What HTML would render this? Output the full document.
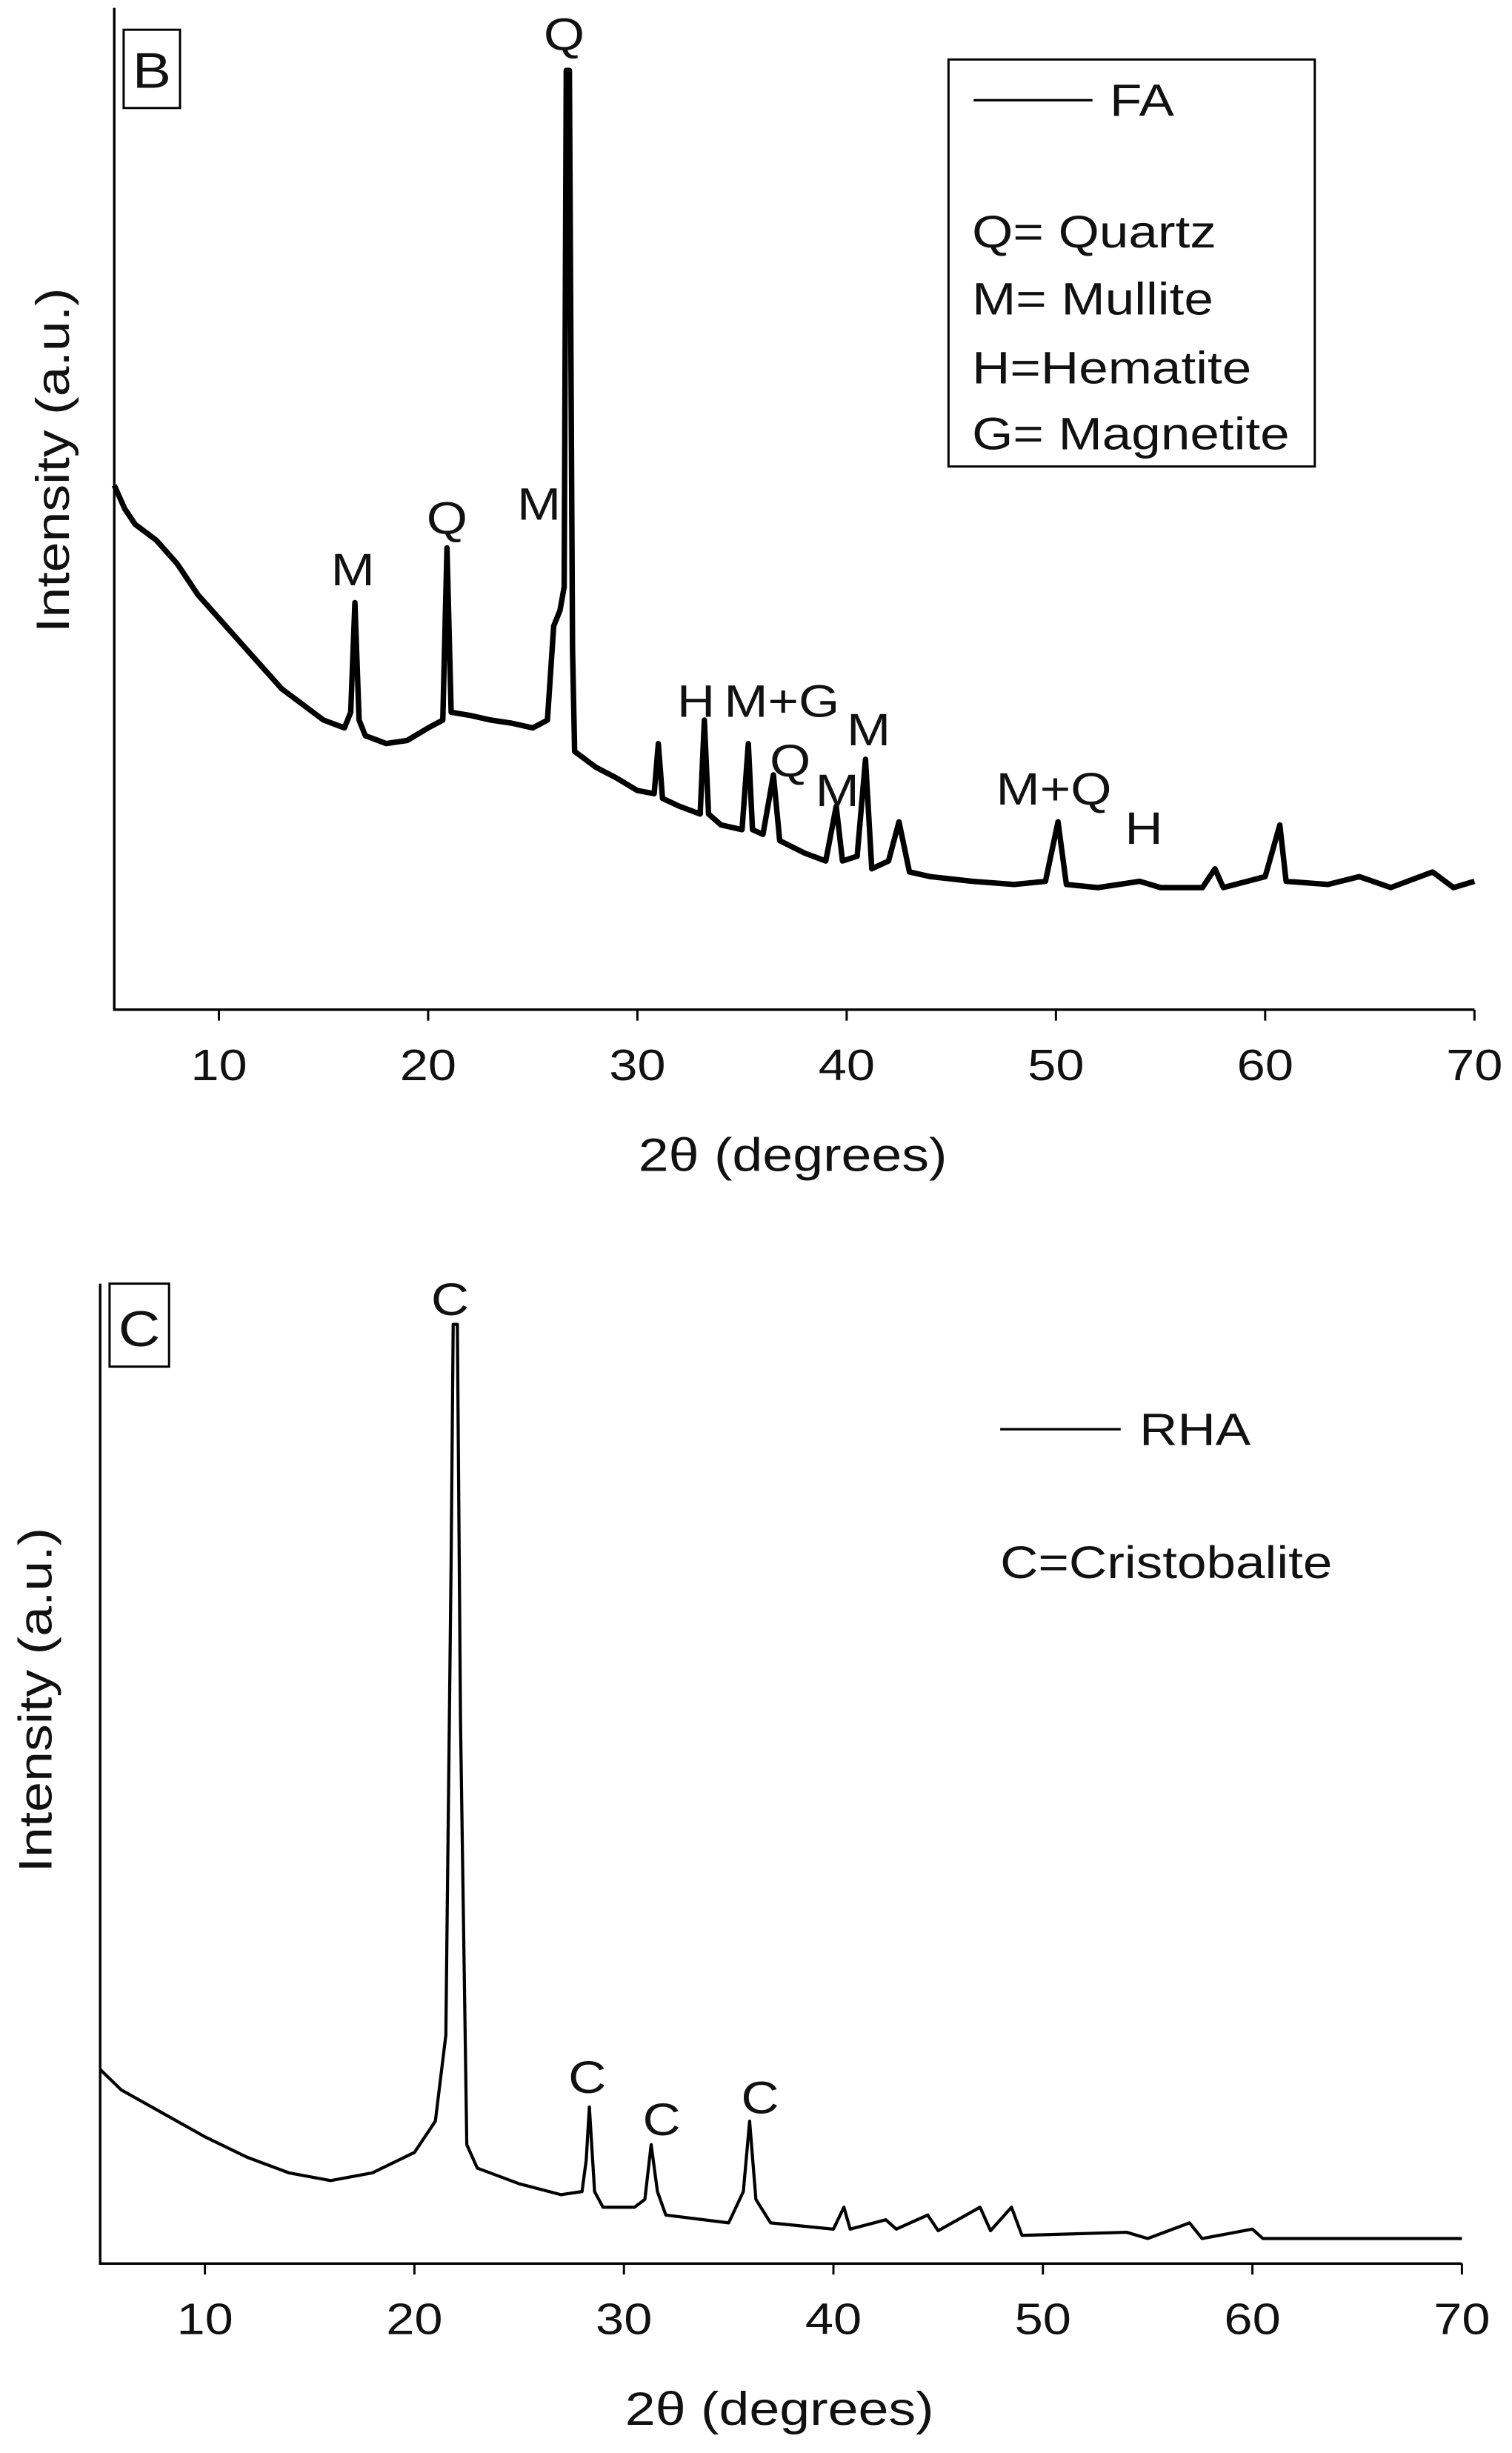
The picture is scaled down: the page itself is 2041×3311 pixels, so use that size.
<!DOCTYPE html>
<html><head><meta charset="utf-8"><style>
html,body{margin:0;padding:0;background:#fff}
svg{display:block}
text{font-family:"Liberation Sans",Arial,sans-serif;fill:#111}
</style></head><body>
<svg id="fig" width="2041" height="3311" viewBox="0 0 966 1567" preserveAspectRatio="none" xmlns="http://www.w3.org/2000/svg">
<rect width="966" height="1567" fill="#fff"/>
<g id="chartB"></g>
<g id="chartC"></g>
</svg>
<script>
// ---- FA data (2theta, intensity a.u.) ----
const faTheta = [5,5.5,6,7,8,9,10,11,12,13,14,15,16,16.3,16.5,16.7,17,18,19,20,20.7,20.9,21.1,22,23,24,25,25.7,26,26.3,26.5,26.6,26.75,26.9,27,28,29,30,30.8,31,31.2,32,33,33.2,33.4,34,35,35.3,35.5,36,36.5,36.8,38,39,39.5,39.8,40.5,40.9,41.2,42,42.5,43,44,46,48,49.5,50.1,50.5,52,54,55,57,57.6,58,60,60.7,61,63,64.5,66,68,69,70];
const faIntensity = [335,320,310,300,285,265,250,235,220,205,195,185,180,190,260,185,175,170,172,180,185,295,190,188,185,183,180,185,245,255,270,600,600,230,165,155,148,140,138,170,135,130,125,185,125,118,115,170,115,112,150,108,100,95,130,95,98,160,90,95,120,88,85,82,80,82,120,80,78,82,78,78,90,78,85,118,82,80,85,78,88,78,82];
// ---- RHA data ----
const rhaTheta = [5,6,8,10,12,14,16,18,20,21,21.5,21.75,21.85,22.05,22.2,22.5,23,25,27,28,28.2,28.35,28.6,29,30.5,31,31.3,31.6,32,35,35.7,36,36.3,37,40,40.5,40.8,42.5,43,44.5,45,47,47.5,48.5,49,54,55,57,57.6,60,60.5,70];
const rhaIntensity = [124,111,96,81,68,58,53,58,71,91,146,446,600,600,346,76,61,51,44,46,66,100,46,36,36,41,76,46,31,26,46,91,41,26,22,36,22,28,22,31,21,36,21,36,18,20,16,26,16,22,16,16];
const xTicks = [10,20,30,40,50,60,70];
// label text, 2theta position, intensity position (baseline)
const faLabels = [["Q",26.5,613],["M",16.4,271],["Q",20.9,304],["M",25.3,313],["H",32.8,187],["M+G",36.9,187],["M",41.05,169],["Q",37.3,149],["M",39.55,130],["M+Q",49.9,131],["H",54.2,106]];
const rhaLabels = [["C",21.7,606],["C",28.25,109],["C",31.8,82],["C",36.5,96]];

const NS="http://www.w3.org/2000/svg";
const SX=1.16;
function mk(tag,attrs,parent){const e=document.createElementNS(NS,tag);for(const k in attrs)e.setAttribute(k,attrs[k]);parent.appendChild(e);return e;}
function txt(parent,s,x,y,size,anchor,name){
  const t=mk('text',{x:0,y:0,'font-size':size,'text-anchor':anchor,transform:`translate(${x},${y}) scale(${SX},1)`},parent);
  t.textContent=s;
  
  
  return t;
}

function drawChart(g,o){
  const sx=v=>o.x0+(v-5)*(o.x1-o.x0)/65;
  const sy=v=>o.y0-v*o.k;
  const ax=mk('path',{d:`M${o.x0},${o.yTop} L${o.x0},${o.y0} L${o.x1},${o.y0}`,fill:'none',stroke:'#000','stroke-width':1.6},g);
  
  
  xTicks.forEach(t=>{
    const l=mk('line',{x1:sx(t),x2:sx(t),y1:o.y0,y2:o.y0+7,stroke:'#000','stroke-width':1.4},g);
    
    
    txt(g,String(t),sx(t),o.y0+45,28,'middle','x-tick-label');
  });
  txt(g,'2θ (degrees)',(o.x0+o.x1)/2-1,o.y0+103,30,'middle','x-axis-title');
  const yt=mk('text',{x:0,y:0,'font-size':30,'text-anchor':'middle',transform:`translate(${o.yTitleX},${o.yTitleY}) rotate(-90) scale(${SX},1)`},g);
  yt.textContent='Intensity (a.u.)';
  
  
  let d='';o.xs.forEach((x,i)=>{d+=(i?'L':'M')+sx(x).toFixed(2)+','+sy(o.ys[i]).toFixed(2);});
  const p=mk('path',{d:d,fill:'none',stroke:'#000','stroke-width':o.sw,'stroke-linejoin':'round'},g);
  
  
  o.labels.forEach(lb=>{ txt(g,lb[0],sx(lb[1]),sy(lb[2]),29,'middle','peak-label'); });
  const b=mk('rect',{x:o.box[0],y:o.box[1],width:o.box[2],height:o.box[3],fill:'#fff',stroke:'#000','stroke-width':1.4},g);
  
  
  txt(g,o.letter,o.box[0]+o.box[2]/2,o.box[1]+o.box[3]-13,32,'middle','panel-letter');
}

const gB=document.getElementById('chartB');
drawChart(gB,{x0:73,x1:942,y0:645,yTop:5,k:1,xs:faTheta,ys:faIntensity,sw:3.5,labels:faLabels,name:'fa',yTitleX:44,yTitleY:294,box:[79,19,36,50],letter:'B'});
const lg=mk('g',{},gB);


mk('rect',{x:606,y:38,width:234,height:260,fill:'#fff',stroke:'#000','stroke-width':1.4},lg);
mk('line',{x1:622,x2:698,y1:64,y2:64,stroke:'#000','stroke-width':1.5},lg);
[["FA",709,74],["Q= Quartz",621,158],["M= Mullite",621,201],["H=Hematite",621,245],["G= Magnetite",621,287]].forEach(r=>{
  txt(lg,r[0],r[1],r[2],29,'start','legend-entry');
});

const gC=document.getElementById('chartC');
drawChart(gC,{x0:64,x1:934,y0:1446,yTop:820,k:1,xs:rhaTheta,ys:rhaIntensity,sw:2,labels:rhaLabels,name:'rha',yTitleX:33,yTitleY:1086,box:[70,820,38,53],letter:'C'});
const lc=mk('g',{},gC);


mk('line',{x1:639,x2:716,y1:913,y2:913,stroke:'#000','stroke-width':1.5},lc);
[["RHA",728,923],["C=Cristobalite",639,1008]].forEach(r=>{
  txt(lc,r[0],r[1],r[2],29,'start','legend-entry');
});
</script>
</body></html>
